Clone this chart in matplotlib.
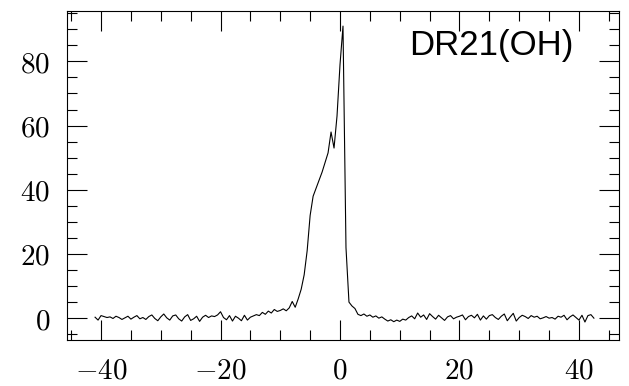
import numpy as np
import matplotlib
matplotlib.use("Agg")
import matplotlib.pyplot as plt
from matplotlib.ticker import MultipleLocator, FuncFormatter

plt.rcParams['mathtext.fontset'] = 'cm'

# velocity channels (km/s), 0.5 km/s spacing
velocity = np.arange(-41.0, 43.0, 0.5)

# antenna temperature per channel
intensity = [
    0.3, -0.6, 0.8, 0.5, 0.2, 0.4, -0.1, 0.6, 0.2, -0.4,
    0.1, 0.6, -0.3, 0.3, 0.8, -0.2, 0.2, -0.4, 0.5, 1.0,
    -0.1, -0.8, 0.4, 1.3, 0.1, -0.6, 0.7, 1.0, -0.2, -0.9,
    0.4, 1.1, -0.7, -0.2, 0.6, -1.0, 0.3, 0.9, 0.2, 0.7,
    0.5, 1.0, 2.0, 0.2, -0.5, 0.8, -0.9, 0.6, 0.0, -0.8,
    0.9, -0.6, 0.3, 0.7, 1.1, 0.8, 1.8, 1.2, 2.2, 1.6,
    2.7, 2.1, 2.4, 2.9, 2.3, 3.2, 5.2, 3.4, 6.0, 9.0,
    13.5, 21.0, 32.0, 38.0, 40.5, 43.0, 45.5, 48.5, 51.5, 58.0,
    53.0, 63.0, 79.0, 91.0, 22.0, 5.0, 3.8, 3.0, 1.2, 0.8,
    1.3, 0.6, 1.0, 0.3, 0.7, 0.0, 0.4, -0.3, -0.9, -0.5,
    -1.1, -0.6, -1.0, -0.3, -0.6, 0.2, 0.7, -0.2, 1.6, 0.3,
    1.0, -0.4, 1.4, 0.5, -0.3, 0.9, 0.1, -0.7, 0.4, 0.8,
    -0.2, 0.3, 0.6, 1.0, -0.5, 0.5, 0.9, 0.1, 1.2, -0.6,
    0.7, -0.3, 0.8, 1.1, 0.2, -0.4, 0.6, 1.3, -0.8, 0.4,
    1.5, -0.9, 0.2, 0.9, 0.5, -0.1, 0.8, 0.3, 0.6, -0.2,
    0.1, 0.5, 0.0, 0.2, -0.3, 0.6, 0.3, 0.9, -0.5, 0.4,
    1.0, 0.2, -0.6, 0.9, -1.2, 0.8, 1.1, 0.0,
]

source_name = "DR21(OH)"

fig = plt.figure(figsize=(6.29, 3.86), dpi=100)
ax = fig.add_axes([0.1065, 0.1192, 0.8776, 0.8531])

ax.plot(velocity, intensity, color='black', linewidth=0.8)

ax.set_xlim(-45.7, 46.7)
ax.set_ylim(-6.8, 95.8)

ax.xaxis.set_major_locator(MultipleLocator(20))
ax.xaxis.set_minor_locator(MultipleLocator(5))
ax.yaxis.set_major_locator(MultipleLocator(20))
ax.yaxis.set_minor_locator(MultipleLocator(5))

fmt = FuncFormatter(lambda v, p: r'$%d$' % round(v))
ax.xaxis.set_major_formatter(fmt)
ax.yaxis.set_major_formatter(fmt)

ax.tick_params(which='both', direction='in', top=True, right=True,
               width=0.8, labelsize=21)
ax.tick_params(which='major', length=14.4)
ax.tick_params(which='minor', length=7.2)
ax.tick_params(axis='x', which='major', pad=12)
ax.tick_params(axis='y', which='major', pad=12)

for s in ax.spines.values():
    s.set_linewidth(0.8)

fig.text(573 / 629, 1 - 55 / 386, source_name, ha='right', va='baseline',
         fontsize=25, family='Liberation Sans')

fig.savefig("out.png", dpi=100)
